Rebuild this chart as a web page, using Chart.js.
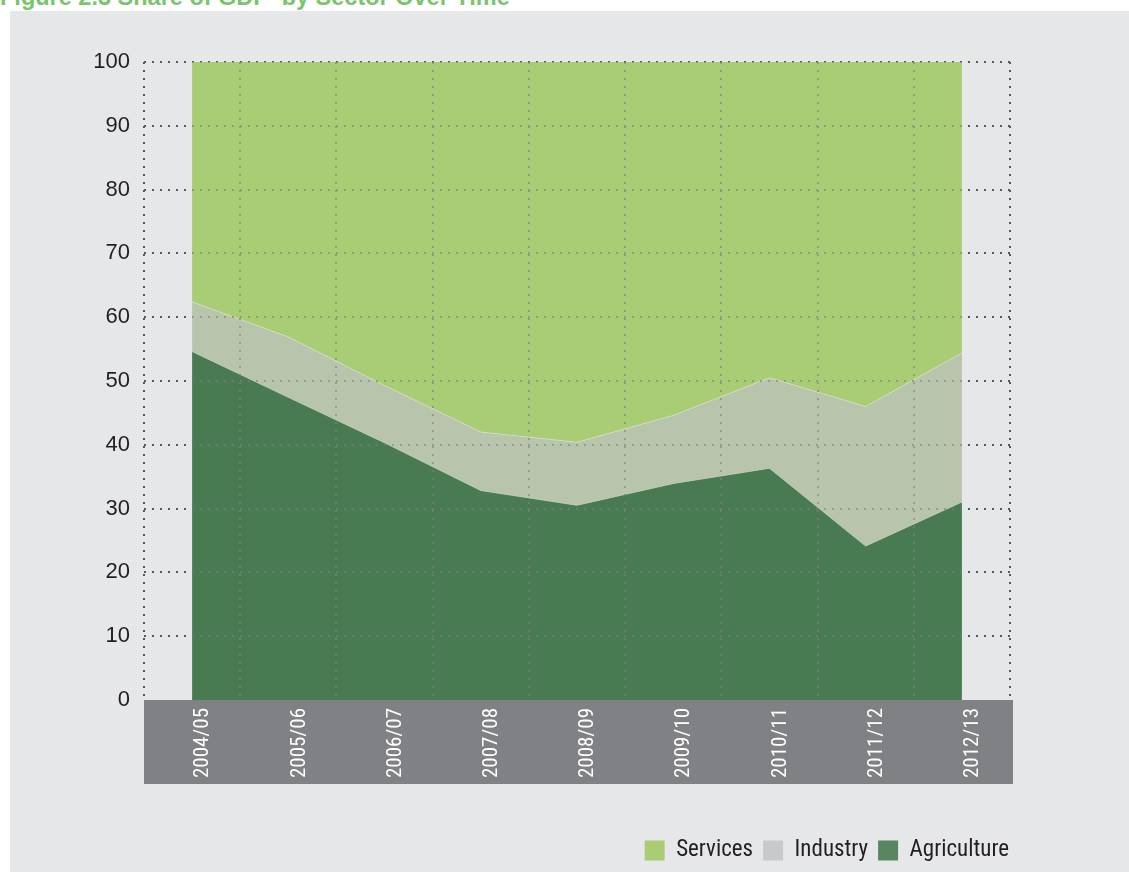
<!DOCTYPE html>
<html>
<head>
<meta charset="utf-8">
<script src="https://cdn.jsdelivr.net/npm/chart.js@4.4.1/dist/chart.umd.min.js"></script>
<style>
  html, body { margin: 0; padding: 0; background: #ffffff; }
  body { width: 1129px; height: 872px; position: relative; overflow: hidden; }
  #panel { position: absolute; left: 10px; top: 11px; right: 0; bottom: 0; background: #e6e7e8; }
  #title { position: absolute; left: 0; top: -16px; font: bold 23.5px 'Liberation Sans', Arial, sans-serif; color: #7cc36e; white-space: pre; }
  #chart { position: absolute; left: 0; top: 0; }
</style>
</head>
<body>
<div id="panel"></div>
<div id="title">Figure 2.3 Share of GDP  by Sector Over Time</div>
<canvas id="chart" width="1129" height="872"></canvas>
<script>
// Data
const categories = ['2004/05', '2005/06', '2006/07', '2007/08', '2008/09', '2009/10', '2010/11', '2011/12', '2012/13'];
const agriculture = [54.6, 47.4, 40.3, 32.8, 30.5, 33.9, 36.3, 24.1, 31.0];
const industry = [7.8, 9.5, 9.0, 9.2, 9.9, 10.7, 14.2, 21.9, 23.4];
const services = [37.6, 43.1, 50.7, 58.0, 59.6, 55.4, 49.5, 54.0, 45.6];
const yTickStep = 10;

// Colours
const fillColors = { Agriculture: '#487b51', Industry: '#b8c4ab', Services: '#a9cd74' };
const legendColors = { Agriculture: '#578660', Industry: '#c8c9cb', Services: '#a9cd74' };

const narrowFont = "'Liberation Sans Narrow', 'Roboto Condensed', 'DejaVu Sans Condensed', sans-serif";
const regularFont = "'Liberation Sans', Arial, sans-serif";
const dots = [2, 6];

// grey band behind the category labels
const axisBand = {
    id: 'axisBand',
    beforeDraw(chart) {
        const x = chart.scales.x;
        const ctx = chart.ctx;
        ctx.save();
        ctx.fillStyle = '#808184';
        ctx.fillRect(x.left, x.top, x.right - x.left + 3, 84);
        ctx.restore();
    },
    // legend sits flush with the right edge of the plot
    afterLayout(chart) {
        chart.legend.left += 9;
        chart.legend.right += 9;
    }
};

const hideZero = (color) => (ctx) => (ctx.tick && ctx.tick.value === 0 ? 'rgba(0,0,0,0)' : color);

new Chart(document.getElementById('chart'), {
    type: 'line',
    data: {
        labels: categories,
        datasets: [
            { label: 'Agriculture', data: agriculture, backgroundColor: fillColors.Agriculture, fill: 'origin',
              borderColor: 'rgba(255,255,255,0.2)', borderWidth: 1, pointRadius: 0, tension: 0 },
            { label: 'Industry', data: industry, backgroundColor: fillColors.Industry, fill: '-1',
              borderColor: 'rgba(255,255,255,0.3)', borderWidth: 1, pointRadius: 0, tension: 0 },
            { label: 'Services', data: services, backgroundColor: fillColors.Services, fill: '-1',
              borderColor: 'rgba(0,0,0,0)', borderWidth: 1, pointRadius: 0, tension: 0 }
        ]
    },
    options: {
        responsive: false,
        animation: false,
        layout: { padding: { top: 62, right: 119, bottom: 0, left: 0 } },
        plugins: {
            tooltip: { enabled: false },
            legend: {
                position: 'bottom',
                align: 'end',
                reverse: true,
                labels: {
                    boxWidth: 20,
                    boxHeight: 20,
                    padding: 10,
                    color: '#231f20',
                    font: { family: narrowFont, size: 23 },
                    generateLabels: (chart) => Chart.defaults.plugins.legend.labels.generateLabels(chart).map(item => ({
                        ...item,
                        fillStyle: legendColors[item.text],
                        strokeStyle: legendColors[item.text],
                        lineWidth: 0
                    }))
                }
            }
        },
        scales: {
            x: {
                offset: true,
                grid: { offset: true, color: '#1a1a1a', lineWidth: 2, drawTicks: false },
                border: { display: false, dash: dots },
                ticks: {
                    color: '#ffffff',
                    font: { family: narrowFont, size: 21 },
                    minRotation: 90,
                    maxRotation: 90,
                    autoSkip: false,
                    padding: 8,
                    labelOffset: 11
                },
                afterFit: (s) => { s.height = 129; }
            },
            x2: {
                type: 'category',
                position: 'bottom',
                offset: true,
                grid: { offset: true, color: 'rgba(128,128,128,0.6)', lineWidth: 2, drawTicks: false, z: 1 },
                border: { display: false, dash: dots },
                ticks: { display: false },
                afterFit: (s) => { s.height = 0; }
            },
            y: {
                stacked: true,
                min: 0,
                max: 100,
                grid: { color: hideZero('#1a1a1a'), lineWidth: 2, drawTicks: false },
                border: { display: false, dash: dots },
                ticks: {
                    stepSize: yTickStep,
                    color: '#231f20',
                    font: { family: regularFont, size: 22 },
                    padding: 14
                },
                afterFit: (s) => { s.width = 144; }
            },
            y2: {
                position: 'left',
                min: 0,
                max: 100,
                grid: { color: hideZero('rgba(128,128,128,0.6)'), lineWidth: 2, drawTicks: false, z: 1 },
                border: { display: false, dash: dots },
                ticks: { display: false, stepSize: yTickStep },
                afterFit: (s) => { s.width = 0; }
            }
        }
    },
    plugins: [axisBand]
});
</script>
</body>
</html>
